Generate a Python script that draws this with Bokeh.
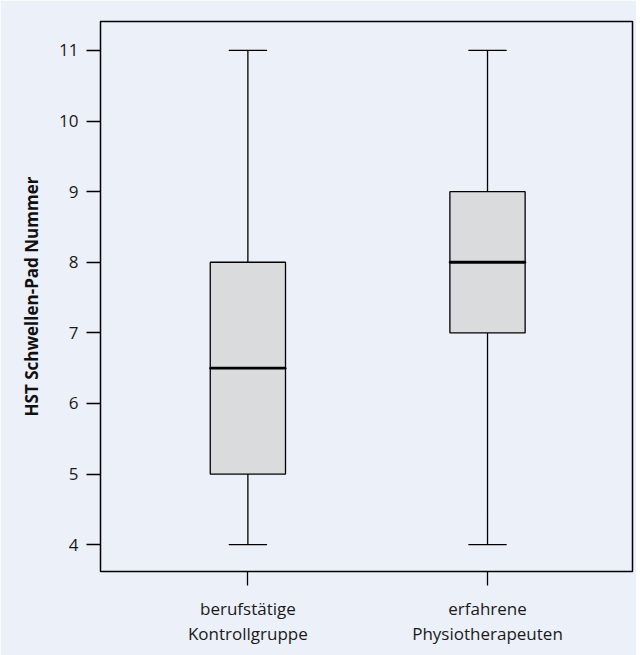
from bokeh.plotting import figure
from bokeh.models import ColumnDataSource, Range1d, FixedTicker
from bokeh.embed import file_html
from bokeh.resources import INLINE

# Data
groups = ["berufstätige\nKontrollgruppe", "erfahrene\nPhysiotherapeuten"]
positions = [1, 2]
lower_whisker = [4, 4]
q1 = [5, 7]
median = [6.5, 8]
q3 = [8, 9]
upper_whisker = [11, 11]
y_ticks = [4, 5, 6, 7, 8, 9, 10, 11]

BG = "#ECF0F9"
BOX = "#D9DBDC"

src = ColumnDataSource(dict(x=positions, lw=lower_whisker, q1=q1, med=median,
                            q3=q3, uw=upper_whisker))

p = figure(width=636, height=655, output_backend="svg", toolbar_location=None,
           x_range=Range1d(0.385, 2.605), y_range=Range1d(3.62, 11.41))
p.background_fill_color = BG
p.border_fill_color = BG
p.outline_line_color = "black"
p.outline_line_width = 1.5
p.min_border_left = 100
p.min_border_right = 4
p.min_border_top = 21
p.min_border_bottom = 84
p.xgrid.visible = False
p.ygrid.visible = False

bw = 0.314
cw = 0.157
# whiskers
p.segment(x0="x", x1="x", y0="q3", y1="uw", source=src, line_color="black", line_width=1.3)
p.segment(x0="x", x1="x", y0="lw", y1="q1", source=src, line_color="black", line_width=1.3)
p.rect(x="x", y="uw", width=cw, height=0.0001, source=src, line_color="black", line_width=1.3, fill_color=None)
p.rect(x="x", y="lw", width=cw, height=0.0001, source=src, line_color="black", line_width=1.3, fill_color=None)
# boxes
p.vbar(x="x", width=bw, top="q3", bottom="q1", source=src, fill_color=BOX,
       line_color="black", line_width=1.3)
# medians
p.rect(x="x", y="med", width=bw, height=0.0001, source=src, line_color="black", line_width=2.8, fill_color=None)

# axes
p.xaxis.ticker = FixedTicker(ticks=positions)
p.xaxis.major_label_overrides = {pos: g for pos, g in zip(positions, groups)}
p.yaxis.ticker = FixedTicker(ticks=y_ticks)
for ax in (p.xaxis[0], p.yaxis[0]):
    ax.axis_line_color = None
    ax.major_tick_out = 14
    ax.major_tick_in = 0
    ax.minor_tick_out = 0
    ax.minor_tick_in = 0
    ax.major_tick_line_color = "black"
    ax.major_tick_line_width = 1.3
    ax.major_label_text_font = "Open Sans"
    ax.major_label_text_font_size = "17px"
    ax.major_label_text_color = "#1a1a1a"

p.xaxis.major_label_standoff = 11
p.xaxis.major_label_text_line_height = 1.1
p.yaxis.major_label_standoff = 8
p.yaxis.axis_label = "HST Schwellen-Pad Nummer"
p.yaxis.axis_label_text_font = "Open Sans"
p.yaxis.axis_label_text_font_style = "bold"
p.yaxis.axis_label_text_font_size = "17px"
p.yaxis.axis_label_text_color = "#111111"
p.yaxis.axis_label_standoff = 13

open("out.html", "w").write(file_html(p, INLINE))
